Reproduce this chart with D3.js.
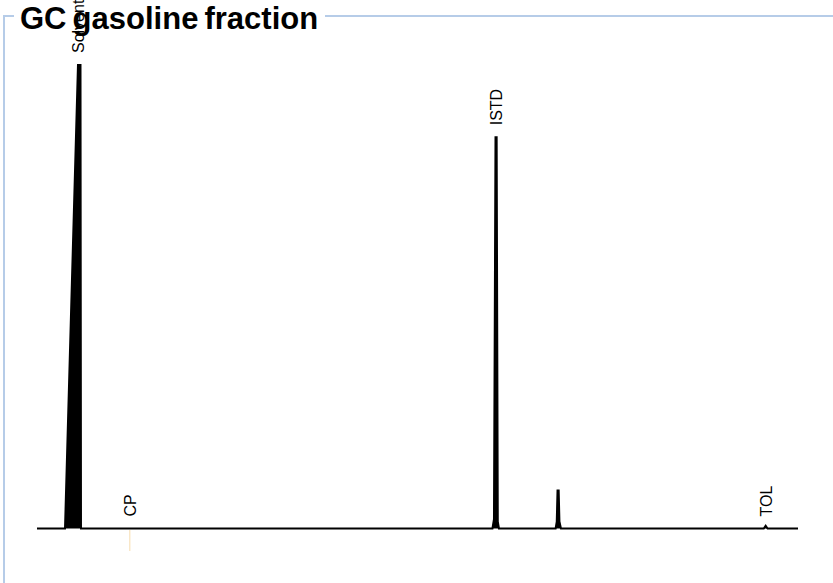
<!DOCTYPE html>
<html>
<head>
<meta charset="utf-8">
<script src="https://cdn.jsdelivr.net/npm/d3@7"></script>
<style>
  html, body { margin: 0; padding: 0; background: #fff; }
  svg { display: block; }
</style>
</head>
<body>
<svg id="chart" width="833" height="583"></svg>
<script>
// ---- Data (retention time in minutes, detector signal in relative units) ----
const traceTimes  = [0, 0.736, 1.077, 1.143, 1.156, 11.97, 12.01, 12.05, 12.08, 12.11, 12.14, 13.63, 13.66, 13.68, 13.71, 13.73, 13.77, 19.10, 19.15, 19.20, 20];
const traceSignal = [0, 0,     100,   100,   0,     0,     2,     84.4,  84.4,  1.5,   0,     0,     1.5,   8.2,   8.2,   1.5,   0,     0,     0.6,   0,     0];

const peakNames   = ["Solvent", "CP", "ISTD", "TOL"];
const peakTimes   = [1.10, 2.46, 12.07, 19.16];
const peakHeights = [100, 0, 84.4, 0];

const markerTimes = [2.44];   // expected retention time marker (CP)

const title = "GC gasoline fraction";

// ---- Drawing ----
const svg = d3.select("#chart");
const W = 833, H = 583;

const x = d3.scaleLinear().domain([0, 20]).range([37, 798]);
const y = d3.scaleLinear().domain([0, 100]).range([528.5, 65]);

// frame (fieldset-like)
svg.append("rect")
  .attr("x", 4).attr("y", 16)
  .attr("width", W + 10).attr("height", H + 10)
  .attr("fill", "none")
  .attr("stroke", "#b6cce8")
  .attr("stroke-width", 2);

// white gap behind title
svg.append("rect")
  .attr("x", 14).attr("y", 0)
  .attr("width", 311).attr("height", 34)
  .attr("fill", "#fff");

// marker line
svg.selectAll("line.marker")
  .data(markerTimes)
  .join("line")
  .attr("class", "marker")
  .attr("x1", d => x(d)).attr("x2", d => x(d))
  .attr("y1", 530).attr("y2", 551)
  .attr("stroke", "#f7dcae")
  .attr("stroke-width", 1);

const pts = traceTimes.map((t, i) => [t, traceSignal[i]]);

// filled area under trace
svg.append("path")
  .datum(pts)
  .attr("d", d3.area().x(d => x(d[0])).y0(y(0)).y1(d => y(d[1])))
  .attr("fill", "#000");

// trace line
svg.append("path")
  .datum(pts)
  .attr("d", d3.line().x(d => x(d[0])).y(d => y(d[1])))
  .attr("fill", "none")
  .attr("stroke", "#000")
  .attr("stroke-width", 2)
  .attr("stroke-linejoin", "miter");

// peak labels (rotated)
svg.selectAll("text.peak")
  .data(peakNames)
  .join("text")
  .attr("class", "peak")
  .attr("transform", (d, i) => `translate(${x(peakTimes[i])},${y(peakHeights[i]) - 12}) rotate(-90)`)
  .attr("dy", "0.35em")
  .attr("text-anchor", "start")
  .attr("font-family", "Liberation Sans, Arial, sans-serif")
  .attr("font-size", 16)
  .attr("fill", "#000")
  .text(d => d);

// title
svg.append("text")
  .attr("x", 20).attr("y", 28.5)
  .attr("font-family", "Liberation Sans, Arial, sans-serif")
  .attr("font-weight", "bold")
  .attr("font-size", 31)
  .attr("word-spacing", -2.5)
  .attr("fill", "#000")
  .text(title);
</script>
</body>
</html>
